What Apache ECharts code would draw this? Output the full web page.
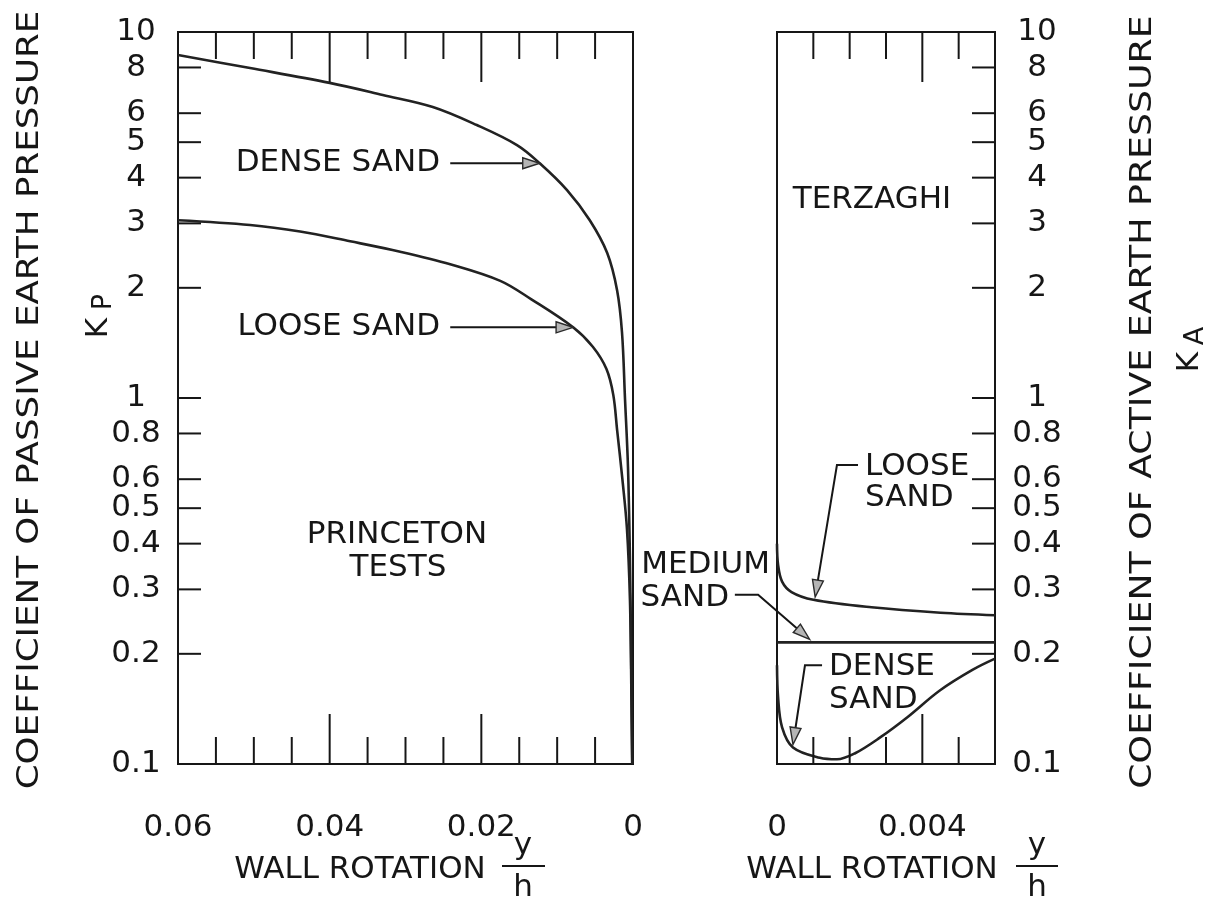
<!DOCTYPE html>
<html>
<head>
<meta charset="utf-8">
<script src="https://cdn.jsdelivr.net/npm/echarts@6/dist/echarts.min.js"></script>
<style>html,body{margin:0;padding:0;background:#fff}#c{width:1214px;height:905px}</style>
</head>
<body>
<div id="c"></div>
<script>
// ---------------- data ----------------
const yTickValues = [8, 6, 5, 4, 3, 2, 1, 0.8, 0.6, 0.5, 0.4, 0.3, 0.2];
const yLabelValues = [10, 8, 6, 5, 4, 3, 2, 1, 0.8, 0.6, 0.5, 0.4, 0.3, 0.2, 0.1];
const passiveMinorTicks = [0.055, 0.05, 0.045, 0.035, 0.03, 0.025, 0.015, 0.01, 0.005];
const passiveMajorTicks = [0.04, 0.02];
const activeMinorTicks = [0.001, 0.002, 0.003, 0.005];
const activeMajorTicks = [0.004];

// Princeton tests (passive), x = wall rotation y/h, y = Kp
const passiveDense = [[0.06, 8.65], [0.0505, 7.97], [0.04, 7.26], [0.033, 6.73], [0.0264, 6.24], [0.0206, 5.57],
  [0.0153, 4.91], [0.0123, 4.38], [0.0087, 3.70], [0.0057, 3.06], [0.0034, 2.49], [0.0021, 1.97], [0.00145, 1.51],
  [0.00105, 0.99], [0.00066, 0.647], [0.0004, 0.36], [0.00025, 0.2], [0.0001, 0.1]];
const passiveLoose = [[0.06, 3.06], [0.0505, 2.97], [0.0439, 2.85], [0.0373, 2.68], [0.0307, 2.51], [0.0241, 2.32],
  [0.0175, 2.09], [0.0134, 1.86], [0.0079, 1.56], [0.0053, 1.38], [0.0035, 1.20], [0.0026, 1.02], [0.0021, 0.82],
  [0.0014, 0.60], [0.0008, 0.44], [0.0004, 0.28], [0.0002, 0.15], [0.0001, 0.1]];

// Terzaghi (active), x = wall rotation y/h, y = Ka
const activeLoose = [[0, 0.40], [0.00003, 0.35], [0.00014, 0.315], [0.0004, 0.295], [0.001, 0.281], [0.0026, 0.268],
  [0.0045, 0.259], [0.006, 0.255]];
const activeMedium = [[0, 0.215], [0.006, 0.215]];
const activeDense = [[0, 0.186], [0.00003, 0.152], [0.00014, 0.126], [0.00044, 0.111], [0.00118, 0.104],
  [0.00165, 0.103], [0.00215, 0.107], [0.00283, 0.118], [0.00358, 0.134], [0.00449, 0.159], [0.00539, 0.181],
  [0.006, 0.194]];

// annotation leader paths (data coordinates of the panel they belong to; last point = arrow tip)
const leaderPassiveDense = [[0.0241, 4.38], [0.0123, 4.38]];
const leaderPassiveLoose = [[0.0241, 1.56], [0.0079, 1.56]];
const leaderActiveLoose = [[0.00223, 0.656], [0.00165, 0.656], [0.00105, 0.286]];
const leaderActiveMedium = [[-0.00116, 0.29], [-0.00052, 0.29], [0.00090, 0.219]];
const leaderActiveDense = [[0.00124, 0.186], [0.00077, 0.186], [0.00044, 0.113]];

// ---------------- styling ----------------
const FONT = 'DejaVu Sans';
const FS = 31;
const INK = '#161616';

const chart = echarts.init(document.getElementById('c'), null, {renderer: 'canvas'});

function fmtX(v) {
  if (Math.abs(v) < 1e-12) return '0';
  return String(+v.toFixed(4));
}

function xTickSeries(g, values, len) {
  const data = [];
  values.forEach(v => { data.push([v, 10]); data.push([v, 0.1]); });
  return {
    type: 'custom', xAxisIndex: g, yAxisIndex: g, clip: false, silent: true, z: 5,
    encode: {x: 0, y: 1}, data,
    renderItem(params, api) {
      const p = api.coord([api.value(0), api.value(1)]);
      const top = api.value(1) > 1;
      return {type: 'line', shape: {x1: p[0], y1: p[1], x2: p[0], y2: top ? p[1] + len : p[1] - len},
        style: {stroke: INK, lineWidth: 2}};
    }
  };
}

function yTickSeries(g, edgeX, dir, len) {
  return {
    type: 'custom', xAxisIndex: g, yAxisIndex: g, clip: false, silent: true, z: 5,
    encode: {x: 0, y: 1}, data: yTickValues.map(k => [edgeX, k]),
    renderItem(params, api) {
      const p = api.coord([api.value(0), api.value(1)]);
      return {type: 'line', shape: {x1: p[0], y1: p[1], x2: p[0] + dir * len, y2: p[1]},
        style: {stroke: INK, lineWidth: 2}};
    }
  };
}

function yLabelSeries(g, edgeX, offset) {
  return {
    type: 'custom', xAxisIndex: g, yAxisIndex: g, clip: false, silent: true, z: 5,
    encode: {x: 0, y: 1}, data: yLabelValues.map(k => [edgeX, k]),
    renderItem(params, api) {
      const p = api.coord([api.value(0), api.value(1)]);
      return {type: 'text', x: p[0] + offset, y: p[1],
        style: {text: String(api.value(1)), fontSize: FS, fontFamily: FONT, fill: INK,
          align: 'center', verticalAlign: 'middle'}};
    }
  };
}

function curve(g, data, name) {
  return {name, type: 'line', xAxisIndex: g, yAxisIndex: g, data, smooth: 0.35, symbol: 'none',
    lineStyle: {color: '#222', width: 2.6}, z: 3, silent: true, animation: false};
}

function leader(g, pts) {
  return {
    type: 'custom', xAxisIndex: g, yAxisIndex: g, clip: false, silent: true, z: 8,
    encode: {x: 0, y: 1}, data: [pts[pts.length - 1]],
    renderItem(params, api) {
      const px = pts.map(p => api.coord(p));
      const n = px.length;
      const tip = px[n - 1], prev = px[n - 2];
      const dx = tip[0] - prev[0], dy = tip[1] - prev[1];
      const L = Math.sqrt(dx * dx + dy * dy) || 1;
      const ux = dx / L, uy = dy / L;
      const hl = 17, hw = 5.5;
      const bx = tip[0] - ux * hl, by = tip[1] - uy * hl;
      const lineEnd = [tip[0] - ux * hl * 0.6, tip[1] - uy * hl * 0.6];
      const linePts = px.slice(0, n - 1).concat([lineEnd]);
      return {
        type: 'group',
        children: [
          {type: 'polyline', shape: {points: linePts}, style: {stroke: INK, lineWidth: 2, fill: null}},
          {type: 'polygon', shape: {points: [tip, [bx - uy * hw, by + ux * hw], [bx + uy * hw, by - ux * hw]]},
            style: {fill: '#b5b5b5', stroke: '#2a2a2a', lineWidth: 1.4}}
        ]
      };
    }
  };
}

function txt(text, x, y, align, extra) {
  return Object.assign({type: 'text', x, y, silent: true, z: 10,
    style: {text, fontSize: FS, fontFamily: FONT, fill: INK, align: align || 'center', verticalAlign: 'middle'}},
    extra || {});
}

const gridTop = 32, gridH = 732;
const ROT = Math.PI / 2;

const option = {
  backgroundColor: '#fff',
  animation: false,
  grid: [
    {left: 178, top: gridTop, width: 455, height: gridH, show: true, borderColor: INK, borderWidth: 2, containLabel: false},
    {left: 777, top: gridTop, width: 218, height: gridH, show: true, borderColor: INK, borderWidth: 2, containLabel: false}
  ],
  xAxis: [
    {gridIndex: 0, type: 'value', min: 0, max: 0.06, interval: 0.02, inverse: true,
      axisLine: {show: false}, axisTick: {show: false}, splitLine: {show: false},
      axisLabel: {margin: 48, fontSize: FS, fontFamily: FONT, color: INK, formatter: fmtX}},
    {gridIndex: 1, type: 'value', min: 0, max: 0.006, interval: 0.004,
      axisLine: {show: false}, axisTick: {show: false}, splitLine: {show: false},
      axisLabel: {margin: 48, fontSize: FS, fontFamily: FONT, color: INK,
        formatter: v => (v > 0.005 ? '' : fmtX(v))}}
  ],
  yAxis: [
    {gridIndex: 0, type: 'log', logBase: 10, min: 0.1, max: 10,
      axisLine: {show: false}, axisTick: {show: false}, axisLabel: {show: false}, splitLine: {show: false}},
    {gridIndex: 1, type: 'log', logBase: 10, min: 0.1, max: 10,
      axisLine: {show: false}, axisTick: {show: false}, axisLabel: {show: false}, splitLine: {show: false}}
  ],
  series: [
    xTickSeries(0, passiveMinorTicks, 27),
    xTickSeries(0, passiveMajorTicks, 50),
    xTickSeries(1, activeMinorTicks, 27),
    xTickSeries(1, activeMajorTicks, 50),
    yTickSeries(0, 0.06, 1, 23),
    yTickSeries(1, 0.006, -1, 23),
    yLabelSeries(0, 0.06, -42),
    yLabelSeries(1, 0.006, 42),
    curve(0, passiveDense, 'Dense sand'),
    curve(0, passiveLoose, 'Loose sand'),
    curve(1, activeLoose, 'Loose sand'),
    curve(1, activeMedium, 'Medium sand'),
    curve(1, activeDense, 'Dense sand'),
    leader(0, leaderPassiveDense),
    leader(0, leaderPassiveLoose),
    leader(1, leaderActiveLoose),
    leader(1, leaderActiveMedium),
    leader(1, leaderActiveDense)
  ],
  graphic: [
    txt('DENSE SAND', 440, 163, 'right'),
    txt('LOOSE SAND', 440, 327, 'right'),
    txt('PRINCETON', 397, 535),
    txt('TESTS', 398, 568),
    txt('TERZAGHI', 872, 200),
    txt('LOOSE', 865, 467, 'left'),
    txt('SAND', 865, 498, 'left'),
    txt('MEDIUM', 770, 565, 'right'),
    txt('SAND', 729, 598, 'right'),
    txt('DENSE', 829, 667, 'left'),
    txt('SAND', 829, 700, 'left'),
    // y-axis titles
    txt('COEFFICIENT OF PASSIVE EARTH PRESSURE', 30, 400, 'center', {rotation: ROT, scaleX: 1.15}),
    txt('K', 99, 328, 'center', {rotation: ROT}),
    txt('P', 104, 302, 'center', {rotation: ROT, style: {text: 'P', fontSize: 27, fontFamily: FONT, fill: INK, align: 'center', verticalAlign: 'middle'}}),
    txt('COEFFICIENT OF ACTIVE EARTH PRESSURE', 1143, 402, 'center', {rotation: ROT, scaleX: 1.17}),
    txt('K', 1190, 362, 'center', {rotation: ROT}),
    txt('A', 1196, 336, 'center', {rotation: ROT, style: {text: 'A', fontSize: 27, fontFamily: FONT, fill: INK, align: 'center', verticalAlign: 'middle'}}),
    // x-axis titles
    txt('WALL ROTATION', 360, 870),
    txt('y', 523, 846),
    {type: 'line', silent: true, z: 10, shape: {x1: 502, y1: 866, x2: 545, y2: 866}, style: {stroke: INK, lineWidth: 2}},
    txt('h', 523, 888),
    txt('WALL ROTATION', 872, 870),
    txt('y', 1037, 846),
    {type: 'line', silent: true, z: 10, shape: {x1: 1016, y1: 866, x2: 1058, y2: 866}, style: {stroke: INK, lineWidth: 2}},
    txt('h', 1037, 888)
  ]
};

chart.setOption(option);
</script>
</body>
</html>
